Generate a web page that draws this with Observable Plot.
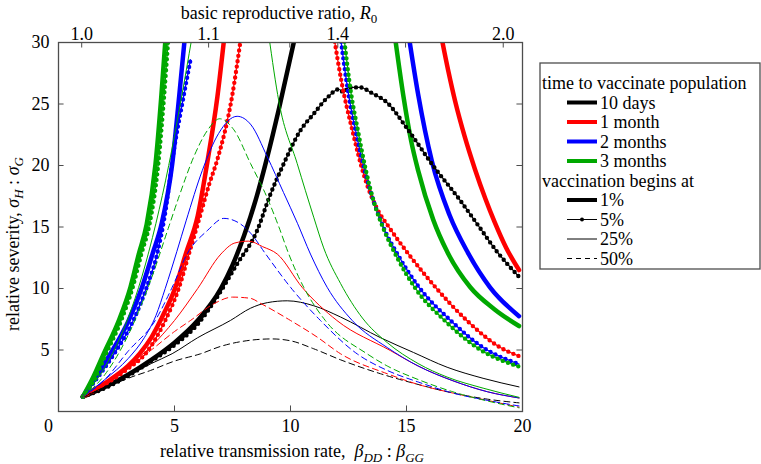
<!DOCTYPE html>
<html><head><meta charset="utf-8">
<script src="https://cdn.jsdelivr.net/npm/d3@7"></script>
<script src="https://cdn.jsdelivr.net/npm/@observablehq/plot@0.6"></script>
<style>body{margin:0;background:#fff} svg{display:block} svg text, svg tspan{font-family:"Liberation Serif", serif !important;}</style>
</head><body><div id="chart"></div>
<script>
// ---- axes / labels ----
const xTicks = [5, 10, 15, 20];
const yTicks = [5, 10, 15, 20, 25, 30];
const r0Labels = ["1.0", "1.1", "1.4", "2.0"];
const r0LabelBetas = [1.0, 6.47, 12.04, 19.17];
const r0MinorBetas = [9.97, 14.96];

// ---- legend ----
const durationNames = ["10 days", "1 month", "2 months", "3 months"];
const durationColors = ["#000000", "#ff0000", "#0000ff", "#00a800"];
const startNames = ["1%", "5%", "25%", "50%"];

// ---- series: [beta ratio, relative severity] ----
// vaccination begins at 1% (thick)
const black1 = [[1.05,1.2],[2,2.0],[3,3.0],[4,4.2],[5,5.6],[6,7.4],[7,10.0],[7.5,11.9],[8,14.3],[8.5,17.2],[9,20.7],[9.5,24.6],[10.2,30.5]];
const red1L = [[1.05,1.2],[2,2.3],[3,3.7],[3.5,4.7],[4,6.0],[4.5,7.8],[5,9.9],[5.5,12.9],[6,15.9],[6.4,20.1],[6.85,25.6],[7.15,30.5]];
const red1R = [[16.5,30.5],[16.8,27.7],[17.1,25.2],[17.5,22.4],[17.95,19.7],[18.4,17.3],[18.8,15.4],[19.3,13.3],[19.85,11.5]];
const blue1L = [[1.05,1.2],[1.6,2.8],[2.24,4.7],[3.0,7.3],[3.6,10.1],[4.05,12.8],[4.45,15.3],[4.9,20.1],[5.2,25.6],[5.45,30.5]];
const blue1R = [[15.1,30.5],[15.5,25.8],[16.1,20.3],[16.85,16.0],[17.65,12.9],[18.6,10.1],[19.85,7.75]];
const green1L = [[1.05,1.2],[1.5,2.8],[1.95,4.7],[2.6,7.4],[3.1,10.1],[3.46,12.8],[3.8,15.2],[4.18,20.1],[4.43,25.6],[4.62,30.5]];
const green1R = [[14.5,30.5],[14.87,25.6],[15.2,22.0],[15.5,19.6],[16.15,15.6],[16.75,13.0],[17.75,10.1],[18.8,8.3],[19.85,6.95]];
// vaccination begins at 5% (line with dots)
const black5 = [[1.05,1.2],[2,1.9],[3,2.9],[4,4.1],[5,5.4],[6,7.1],[6.8,9.2],[7.7,12.0],[8.56,14.7],[9.1,17.5],[9.71,20.15],[10.43,22.86],[11.0,24.2],[11.58,25.5],[12.08,26.2],[12.3,25.95],[12.5,26.35],[13.0,26.35],[13.5,25.9],[14.17,25.1],[15.03,23.0],[16.18,19.9],[17.3,17.2],[18.1,15.1],[18.9,13.0],[19.85,10.95]];
const red5L = [[1.05,1.2],[2,2.2],[3,3.5],[3.75,4.7],[4.6,7.4],[5.2,10.1],[5.62,12.8],[6.04,15.5],[6.5,18.5],[6.85,20.5],[7.48,25.6],[7.87,30.5]];
const red5R = [[11.87,30.5],[12.2,26.8],[12.66,22.9],[13.2,19.0],[13.7,16.6],[14.24,15.0],[15.17,12.6],[16.25,10.1],[17.6,7.4],[19.05,5.2],[19.85,4.5]];
const blue5L = [[1.05,1.2],[1.7,2.8],[2.4,4.7],[3.2,7.3],[3.8,10.1],[4.25,12.8],[4.57,15.8],[4.97,21.2],[5.35,25.2],[5.69,28.6]];
const blue5R = [[12.15,30.5],[12.5,25.8],[12.8,22.9],[13.2,19.6],[13.6,17.0],[14.0,15.0],[14.67,12.6],[15.5,10.2],[16.9,7.4],[18.3,5.2],[19.85,3.85]];
const green5L = [[1.05,1.2],[1.6,2.8],[2.05,4.7],[2.7,7.4],[3.2,10.1],[3.57,12.8],[3.92,15.2],[4.3,20.1],[4.55,25.6],[4.74,30.5]];
const green5R = [[12.3,30.5],[12.6,26.0],[12.9,22.9],[13.25,19.6],[13.6,17.0],[14.0,14.9],[14.6,12.5],[15.35,10.1],[16.7,7.3],[18.2,5.0],[19.85,3.65]];
// vaccination begins at 25% (thin)
const black25 = [[1.05,1.2],[2,2.0],[3,2.9],[4,3.9],[4.9,4.7],[6,6.0],[7.41,7.4],[8.28,8.4],[9,8.85],[9.86,9.0],[11,8.6],[12.16,7.68],[13.88,6.0],[15.3,4.8],[16.75,3.6],[18.3,2.7],[19.85,2.0]];
const red25 = [[1.05,1.2],[2,2.4],[3,3.7],[4,5.3],[5,7.4],[6,10.0],[7,12.8],[7.6,13.7],[8.2,13.85],[8.8,13.4],[9.43,12.8],[10.5,10.1],[12.0,7.4],[14.3,4.96],[15.5,3.7],[17,2.5],[18.5,1.6],[19.85,1.1]];
const blue25 = [[1.05,1.2],[2,2.6],[3,4.3],[3.7,6.0],[4.2,7.8],[4.6,10.0],[5.1,13.0],[5.5,15.5],[6.2,19.6],[6.9,22.6],[7.7,24.0],[8.3,23.3],[9.0,20.7],[9.7,17.8],[10.3,15.3],[10.86,12.8],[11.58,10.1],[12.66,7.4],[14.17,5.2],[15.5,3.7],[17,2.5],[18.5,1.6],[19.85,1.1]];
const green25L = [[1.05,1.2],[2,3.6],[3,7.6],[3.6,11.0],[4.2,15.3],[4.75,20.0],[5.25,25.0],[5.76,30.5]];
const green25R = [[9.07,30.5],[9.5,25.2],[10.29,20.15],[11.0,15.8],[11.43,13.3],[12.16,10.4],[13.1,7.6],[14.17,5.6],[15.5,3.9],[16.75,2.8],[18.3,1.9],[19.85,1.15]];
// vaccination begins at 50% (dashed)
const black50 = [[1.05,1.2],[2,1.9],[3,2.7],[3.97,3.34],[5,4.1],[6.12,4.69],[7,5.3],[8.3,5.8],[9.2,5.9],[10,5.75],[11,5.1],[12.16,4.2],[13.88,3.07],[15.5,2.2],[17,1.5],[18.5,1.0],[19.85,0.7]];
const red50 = [[1.05,1.2],[2,2.2],[3,3.6],[4,5.0],[5,6.5],[5.69,7.4],[6.7,8.76],[7.5,9.3],[8.28,9.2],[8.7,8.8],[10.0,7.4],[11.15,6.05],[12.16,4.69],[14.17,3.07],[15.5,2.2],[17,1.5],[18.5,0.9],[19.85,0.35]];
const blue50 = [[1.05,1.2],[2,2.6],[3,4.9],[4.17,7.4],[4.9,10.1],[5.55,12.83],[6.41,14.7],[7.13,15.7],[7.8,15.3],[8.28,14.5],[8.92,12.83],[10.0,10.1],[11.29,7.4],[12.87,4.69],[14.17,3.34],[15.5,2.4],[17,1.5],[18.5,0.9],[19.85,0.45]];
const green50 = [[1.05,1.2],[2,3.0],[3,6.2],[4,10.8],[4.75,15.0],[5.2,17.5],[5.83,20.7],[6.4,22.8],[6.95,23.8],[7.56,22.9],[8.28,20.15],[8.99,17.4],[9.5,15.0],[9.92,12.83],[10.57,10.1],[11.5,7.4],[13.3,4.69],[14.17,3.7],[15.5,2.6],[17,1.6],[18.5,0.85],[19.85,0.3]];

const curveList = [
  ["black1", black1, 0, 0], ["red1L", red1L, 1, 0], ["red1R", red1R, 1, 0],
  ["blue1L", blue1L, 2, 0], ["blue1R", blue1R, 2, 0], ["green1L", green1L, 3, 0], ["green1R", green1R, 3, 0],
  ["black5", black5, 0, 1], ["red5L", red5L, 1, 1], ["red5R", red5R, 1, 1],
  ["blue5L", blue5L, 2, 1], ["blue5R", blue5R, 2, 1], ["green5L", green5L, 3, 1], ["green5R", green5R, 3, 1],
  ["black25", black25, 0, 2], ["red25", red25, 1, 2], ["blue25", blue25, 2, 2],
  ["green25L", green25L, 3, 2], ["green25R", green25R, 3, 2],
  ["black50", black50, 0, 3], ["red50", red50, 1, 3], ["blue50", blue50, 2, 3], ["green50", green50, 3, 3]
];
const rows = curveList.flatMap(([key, pts, c, s]) =>
  pts.map(([b, v]) => ({key, beta: b, sev: v, color: durationColors[c], style: s})));

const byStyle = s => rows.filter(d => d.style === s);
const frameColor = "#4d4d4d";
const FONT = "Liberation Serif, serif";
const FS = 18;
const lineOpts = {x: "beta", y: "sev", z: "key", stroke: "color", curve: "monotone-x", clip: true};
const axisFont = {fontFamily: FONT, fontSize: FS, fill: "#000", label: null, tickSize: 0};

const chart = Plot.plot({
  width: 761, height: 464,
  marginLeft: 58, marginRight: 239, marginTop: 42, marginBottom: 53,
  style: {fontFamily: FONT, fontSize: FS + "px", background: "#fff", color: "#000"},
  x: {domain: [0, 20]},
  y: {domain: [0, 30]},
  marks: [
    Plot.line(byStyle(0), {...lineOpts, strokeWidth: 4.5}),
    Plot.line(byStyle(1), {...lineOpts, strokeWidth: 1.2}),
    Plot.line(byStyle(1), {...lineOpts, strokeWidth: 4.4, strokeDasharray: "0,5.5", strokeLinecap: "round"}),
    Plot.line(byStyle(2), {...lineOpts, strokeWidth: 1}),
    Plot.line(byStyle(3), {...lineOpts, strokeWidth: 1, strokeDasharray: "6,4"}),
    Plot.frame({stroke: frameColor, strokeWidth: 1.3}),
    Plot.ruleX(xTicks, {x: d => d, y1: 0, y2: 0.45, stroke: frameColor}),
    Plot.ruleY(yTicks, {y: d => d, x1: 0, x2: 0.24, stroke: frameColor}),
    Plot.ruleY(yTicks, {y: d => d, x1: 20, x2: 19.76, stroke: frameColor}),
    Plot.ruleX(r0LabelBetas.concat(r0MinorBetas), {x: d => d, y1: 30, y2: 29.55, stroke: frameColor}),
    Plot.axisX(xTicks, {...axisFont, anchor: "bottom", tickPadding: 8}),
    Plot.axisX([0], {...axisFont, anchor: "bottom", tickPadding: 8, dx: -10}),
    Plot.axisY(yTicks, {...axisFont, anchor: "left", tickPadding: 9}),
    Plot.axisX(r0LabelBetas, {...axisFont, anchor: "top", tickPadding: 3,
      tickFormat: d => r0Labels[r0LabelBetas.indexOf(d)]})
  ]
});
document.getElementById("chart").appendChild(chart);

// ---- titles & legend (SVG text) ----
const svgSel = d3.select(chart);
const addText = (sel, x, y, anchor) => sel.append("text").attr("x", x).attr("y", y)
  .attr("text-anchor", anchor).attr("font-family", FONT).attr("font-size", FS).attr("fill", "#000");

const topTitle = addText(svgSel, 279, 19, "middle");
topTitle.append("tspan").text("basic reproductive ratio, ");
topTitle.append("tspan").attr("font-style", "italic").text("R");
topTitle.append("tspan").attr("font-size", 13).attr("dy", 4).text("0");

const botTitle = addText(svgSel, 292, 457, "middle");
botTitle.append("tspan").text("relative transmission rate,  ");
botTitle.append("tspan").attr("font-style", "italic").text("β");
botTitle.append("tspan").attr("font-style", "italic").attr("font-size", 13).attr("dy", 5).text("DD");
botTitle.append("tspan").attr("dy", -5).text(" : ");
botTitle.append("tspan").attr("font-style", "italic").text("β");
botTitle.append("tspan").attr("font-style", "italic").attr("font-size", 13).attr("dy", 5).text("GG");

const yTitle = addText(svgSel, 0, 0, "middle").attr("transform", "translate(19,244) rotate(-90)");
yTitle.append("tspan").text("relative severity, ");
yTitle.append("tspan").attr("font-style", "italic").text("σ");
yTitle.append("tspan").attr("font-style", "italic").attr("font-size", 13).attr("dy", 4).text("H");
yTitle.append("tspan").attr("dy", -4).text(" : ");
yTitle.append("tspan").attr("font-style", "italic").text("σ");
yTitle.append("tspan").attr("font-style", "italic").attr("font-size", 13).attr("dy", 4).text("G");

const lg = svgSel.append("g");
lg.append("rect").attr("x", 540).attr("y", 63).attr("width", 220).attr("height", 206)
  .attr("fill", "#fff").attr("stroke", frameColor).attr("stroke-width", 1.3);
const rowY = i => 83 + i * 19.5;
addText(lg, 542, rowY(0), "start").attr("dy", "0.35em").text("time to vaccinate population");
durationNames.forEach((n, i) => {
  const y = rowY(i + 1);
  lg.append("line").attr("x1", 567).attr("x2", 597).attr("y1", y).attr("y2", y)
    .attr("stroke", durationColors[i]).attr("stroke-width", 4);
  addText(lg, 600, y, "start").attr("dy", "0.35em").text(n);
});
addText(lg, 542, rowY(5), "start").attr("dy", "0.35em").text("vaccination begins at");
startNames.forEach((n, i) => {
  const y = rowY(i + 6);
  const l = lg.append("line").attr("x1", 567).attr("x2", 597).attr("y1", y).attr("y2", y).attr("stroke", "#000");
  l.attr("stroke-width", i === 0 ? 4 : 1);
  if (i === 3) l.attr("stroke-dasharray", "5,4");
  if (i === 1) lg.append("circle").attr("cx", 582).attr("cy", y).attr("r", 2).attr("fill", "#000");
  addText(lg, 600, y, "start").attr("dy", "0.35em").text(n);
});
</script>
</body></html>
